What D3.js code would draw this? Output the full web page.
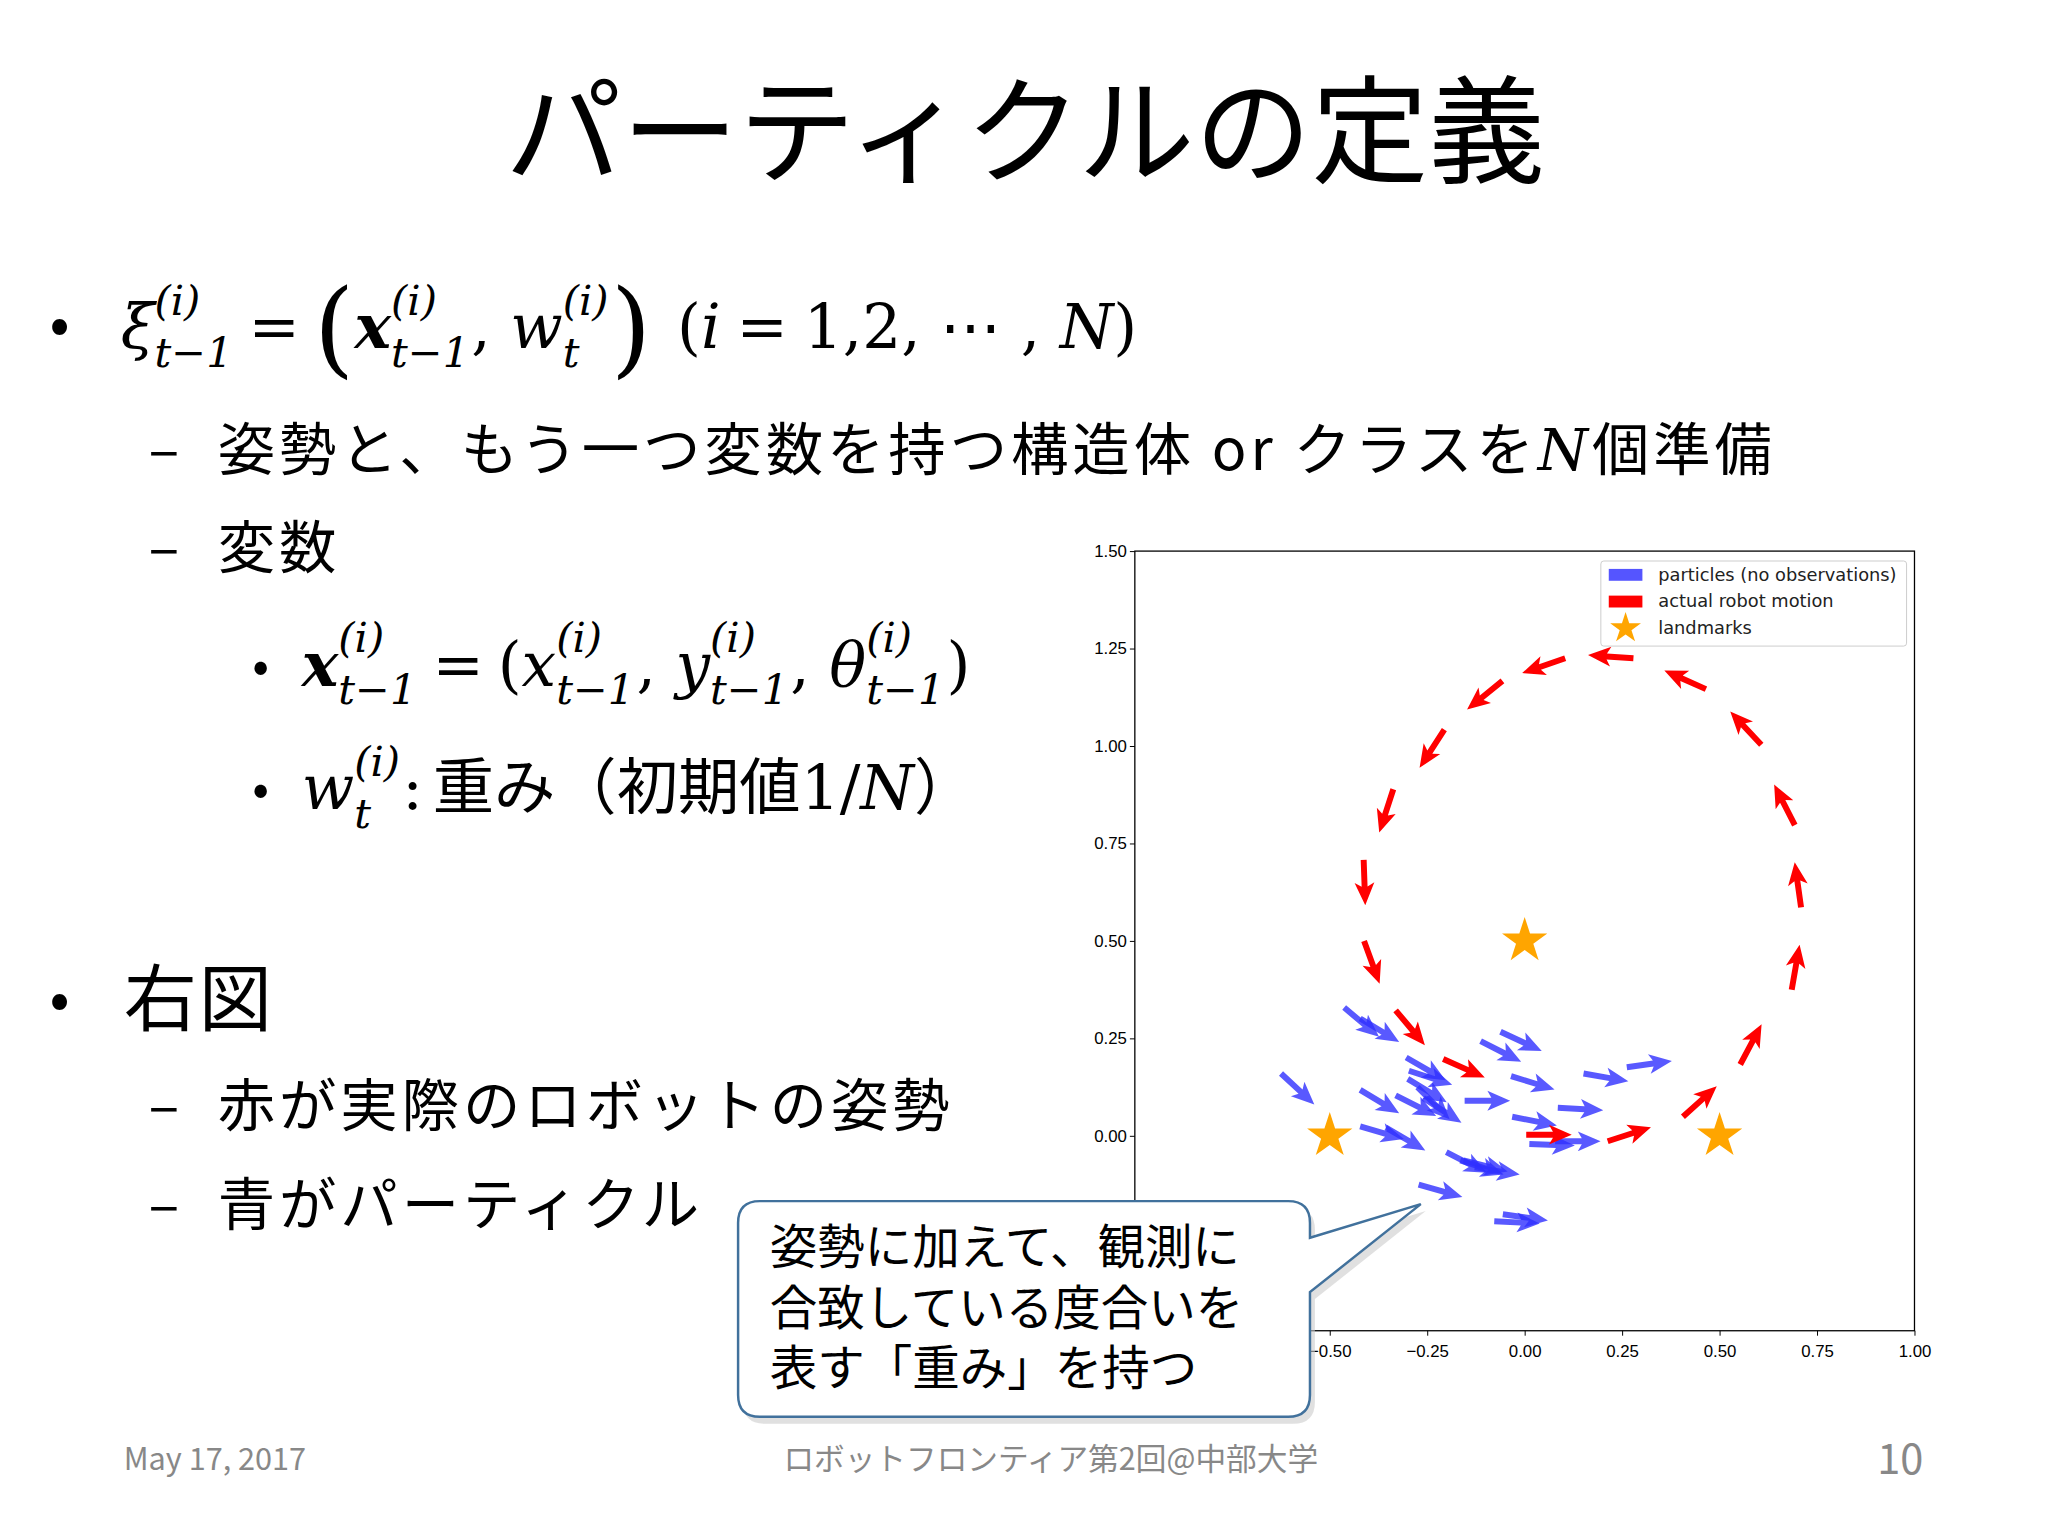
<!DOCTYPE html>
<html><head><meta charset="utf-8">
<script src="https://cdn.jsdelivr.net/npm/d3@7"></script>
<style>body{margin:0;background:#fff} text{white-space:pre}</style></head>
<body><svg id="s" width="2048" height="1536"></svg>
<script>
// data: [x, y, heading in degrees]
const robot = [[0.004,0.003,0],[0.213,-0.014,18],[0.406,0.049,42],[0.553,0.183,62],[0.685,0.375,80],
 [0.709,0.586,98],[0.693,0.797,117],[0.607,1.003,133],[0.465,1.146,156],[0.279,1.225,176],
 [0.104,1.225,199],[-0.057,1.167,219],[-0.206,1.042,237],[-0.337,0.889,252],[-0.413,0.708,272],
 [-0.412,0.5,290],[-0.331,0.322,310],[-0.209,0.197,336]];
const particles = [[-0.463,0.329,-40],[-0.422,0.301,-31],[-0.625,0.160,-43],[-0.304,0.201,-30],[-0.297,0.167,-18],
 [-0.300,0.146,-31],[-0.275,0.125,-45],[-0.422,0.118,-31],[-0.331,0.104,-27],[-0.260,0.097,-33],
 [-0.154,0.090,0],[-0.113,0.243,-27],[-0.062,0.267,-25],[-0.035,0.153,-17],[0.151,0.160,-10],
 [0.262,0.176,8],[0.085,0.072,-3],[-0.032,0.049,-11],[-0.422,0.024,-16],[-0.356,0.021,-30],
 [0.012,-0.021,-2],[0.078,-0.014,0],[-0.201,-0.042,-27],[-0.165,-0.063,-18],[-0.128,-0.081,-9],
 [-0.272,-0.125,-16],[-0.078,-0.219,-3],[-0.056,-0.201,-8],[-0.157,-0.063,-14]];
const landmarks = [[-0.5,0],[0,0.5],[0.5,0]];
const xTicks = [-1.0,-0.75,-0.5,-0.25,0,0.25,0.5,0.75,1.0];
const yTicks = [-0.5,-0.25,0,0.25,0.5,0.75,1.0,1.25,1.5];
const legendLabels = ["particles (no observations)","actual robot motion","landmarks"];

const root = d3.select("#s").append("g").attr("transform","scale(0.9894)");
const svg = root;
const JP = "'Noto Sans CJK JP','Noto Sans',sans-serif";
const MATH = "'DejaVu Serif',serif";

// plot
const L=1147,R=1935,T=557,B=1345;
const x=d3.scaleLinear().domain([-1,1]).range([L,R]);
const y=d3.scaleLinear().domain([-0.5,1.5]).range([B,T]);
const g=svg.append("g");
g.append("rect").attr("x",L).attr("y",T).attr("width",R-L).attr("height",B-T).attr("fill","#fff").attr("stroke","#000").attr("stroke-width",1.3);
const fmt=d3.format(".2f");
const tickFont="'Liberation Sans',sans-serif";
g.append("g").attr("transform",`translate(0,${B})`).call(d3.axisBottom(x).tickValues(xTicks).tickFormat(fmt).tickSize(5))
 .call(a=>{a.select(".domain").remove();a.selectAll("text").attr("font-size",17).attr("font-family",tickFont).attr("dy","1.1em");});
g.append("g").attr("transform",`translate(${L},0)`).call(d3.axisLeft(y).tickValues(yTicks).tickFormat(fmt).tickSize(5))
 .call(a=>{a.select(".domain").remove();a.selectAll("text").attr("font-size",17).attr("font-family",tickFont);});
const arrowPath="M0,-3 L27,-3 L23,-10 L46,0 L23,10 L27,3 L0,3 Z";
g.selectAll(".p").data(particles).join("path").attr("d",arrowPath).attr("fill","#3030ff").attr("fill-opacity",0.8)
 .attr("transform",d=>`translate(${x(d[0])},${y(d[1])}) rotate(${-d[2]})`);
g.selectAll(".r").data(robot).join("path").attr("d",arrowPath).attr("fill","#ff0000")
 .attr("transform",d=>`translate(${x(d[0])},${y(d[1])}) rotate(${-d[2]})`);
const star=d3.symbol().type(d3.symbolStar).size(650);
g.selectAll(".l").data(landmarks).join("path").attr("d",star).attr("fill","#ffa500")
 .attr("transform",d=>`translate(${x(d[0])},${y(d[1])})`);
// legend
g.append("rect").attr("x",1618).attr("y",567).attr("width",309).attr("height",86).attr("fill","#fff").attr("stroke","#ccc").attr("rx",3);
legendLabels.forEach((t,i)=>{
  const yy=581+i*27;
  if(i<2) g.append("rect").attr("x",1626).attr("y",yy-6).attr("width",34).attr("height",12).attr("fill",i?"#ff0000":"#5555ff");
  else g.append("path").attr("d",d3.symbol().type(d3.symbolStar).size(300)).attr("fill","#ffa500").attr("transform",`translate(1643,${yy})`);
  g.append("text").attr("x",1676).attr("y",yy+6).attr("font-size",18).attr("font-family","'DejaVu Sans',sans-serif").attr("fill","#222").text(t);
});

// title
svg.append("text").attr("x",1036).attr("y",176).attr("text-anchor","middle").attr("font-size",118).attr("font-family",JP).text("パーティクルの定義");

function formula(x0,y0,size,items){
  let cx=x0;
  const add=(t,opts)=>{
    const e=svg.append("text").attr("x",cx).attr("y",y0+(opts.dy||0)).attr("font-size",opts.size||size)
      .attr("font-family",opts.fam||MATH).text(t);
    if(opts.it) e.attr("font-style","italic");
    if(opts.bold) e.attr("font-weight","bold");
    return e.node().getComputedTextLength();
  };
  items.forEach(it=>{
    if(typeof it==="string") cx+=add(it,{});
    else if(it.j) cx+=add(it.j,{fam:JP});
    else if(it.i) cx+=add(it.i,{it:1});
    else if(it.b) cx+=add(it.b,{it:1,bold:1});
    else if(it.p) cx+=add(it.p,{size:size*1.7,dy:size*0.25});
    else if(it.gap) cx+=it.gap;
    else if(it.s){
      const w1=add(it.s[0],{it:1,size:size*0.68,dy:-size*0.55});
      const w2=add(it.s[1],{it:1,size:size*0.68,dy:size*0.3});
      cx+=Math.max(w1,w2)+2;
    }
  });
}
const S=58, F=62;
const TS="t−1";
svg.append("text").attr("x",50).attr("y",348).attr("font-size",60).attr("font-family",JP).text("•");
formula(122,352,F,[{i:"ξ"},{s:["(i)",TS]},{gap:14},"=",{gap:14},{p:"("},{b:"x"},{s:["(i)",TS]},", ",{i:"w"},{s:["(i)","t"]},{p:")"},{gap:26},"(",{i:"i"},{gap:16},"=",{gap:16},"1,2, ⋯ , ",{i:"N"},")"]);
function jp(xp,yp,size,parts,ls){
  const t=svg.append("text").attr("x",xp).attr("y",yp).attr("font-size",size).attr("font-family",JP).attr("letter-spacing",ls||0);
  parts.forEach(p=>{const s=t.append("tspan").text(p.t); if(p.i) s.attr("font-style","italic").attr("font-family",MATH);});
}
svg.append("text").attr("x",150).attr("y",475).attr("font-size",S).attr("font-family",JP).text("–");
jp(220,475,S,[{t:"姿勢と、もう一つ変数を持つ構造体 or クラスを"},{t:"N",i:1},{t:"個準備"}],4);
svg.append("text").attr("x",150).attr("y",574).attr("font-size",S).attr("font-family",JP).text("–");
jp(220,574,S,[{t:"変数"}],4);
svg.append("text").attr("x",255).attr("y",690).attr("font-size",50).attr("font-family",JP).text("•");
formula(305,693,F,[{b:"x"},{s:["(i)",TS]},{gap:14},"=",{gap:14},"(",{i:"x"},{s:["(i)",TS]},", ",{i:"y"},{s:["(i)",TS]},", ",{i:"θ"},{s:["(i)",TS]},")"]);
svg.append("text").attr("x",255).attr("y",815).attr("font-size",50).attr("font-family",JP).text("•");
formula(305,818,F,[{i:"w"},{s:["(i)","t"]},":",{gap:10},{j:"重み（初期値"},"1/",{i:"N"},{j:"）"}]);
svg.append("text").attr("x",50).attr("y",1030).attr("font-size",60).attr("font-family",JP).text("•");
jp(125,1036,74,[{t:"右図"}],2);
svg.append("text").attr("x",150).attr("y",1138).attr("font-size",S).attr("font-family",JP).text("–");
jp(220,1138,S,[{t:"赤が実際のロボットの姿勢"}],4);
svg.append("text").attr("x",150).attr("y",1238).attr("font-size",S).attr("font-family",JP).text("–");
jp(220,1238,S,[{t:"青がパーティクル"}],4);

// callout
const cp=d3.path();
const cx0=746,cy0=1214,cx1=1324,cy1=1432,r=22;
cp.moveTo(cx0+r,cy0);cp.lineTo(cx1-r,cy0);cp.quadraticCurveTo(cx1,cy0,cx1,cy0+r);
cp.lineTo(cx1,1251);cp.lineTo(1436,1217);cp.lineTo(cx1,1306);
cp.lineTo(cx1,cy1-r);cp.quadraticCurveTo(cx1,cy1,cx1-r,cy1);cp.lineTo(cx0+r,cy1);cp.quadraticCurveTo(cx0,cy1,cx0,cy1-r);
cp.lineTo(cx0,cy0+r);cp.quadraticCurveTo(cx0,cy0,cx0+r,cy0);cp.closePath();
svg.append("path").attr("d",cp.toString()).attr("fill","#ccc").attr("opacity",0.6).attr("transform","translate(5,7)");
svg.append("path").attr("d",cp.toString()).attr("fill","#fff").attr("stroke","#41719c").attr("stroke-width",2.5);
["姿勢に加えて、観測に","合致している度合いを","表す「重み」を持つ"].forEach((t,i)=>
 svg.append("text").attr("x",778).attr("y",1278+i*61).attr("font-size",48).attr("font-family",JP).text(t));

// footer
svg.append("text").attr("x",125).attr("y",1486).attr("font-size",31).attr("fill","#888").attr("font-family",JP).text("May 17, 2017");
svg.append("text").attr("x",1062).attr("y",1486).attr("text-anchor","middle").attr("font-size",31).attr("fill","#888").attr("font-family",JP).text("ロボットフロンティア第2回@中部大学");
svg.append("text").attr("x",1944).attr("y",1490).attr("text-anchor","end").attr("font-size",42).attr("fill","#888").attr("font-family",JP).text("10");
</script></body></html>
